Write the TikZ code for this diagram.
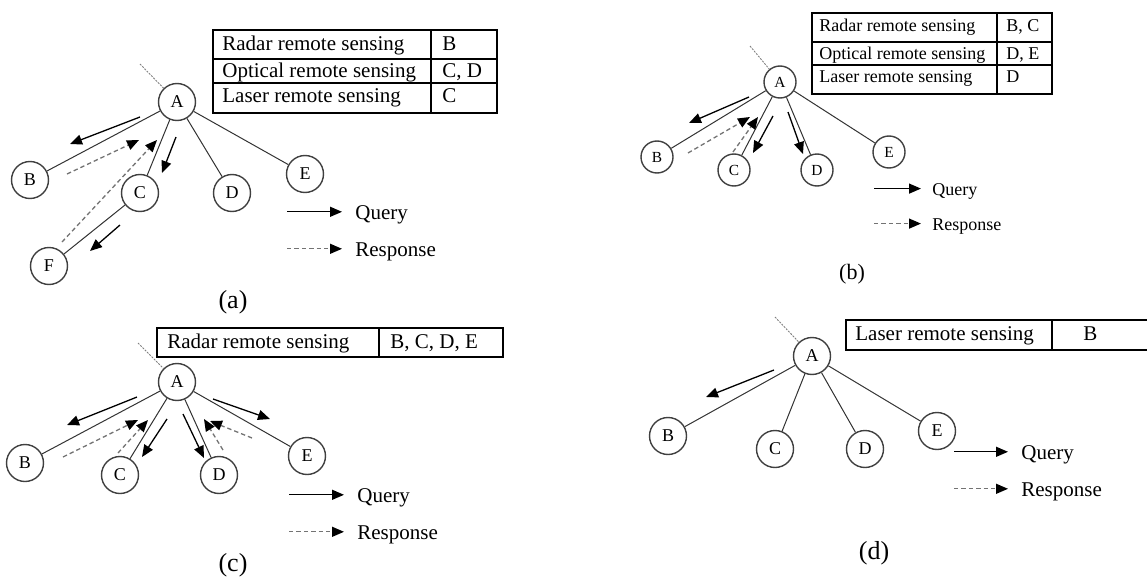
\documentclass[tikz,border=0pt]{standalone}
\usepackage{fontspec}
\setmainfont{Liberation Serif}
\usetikzlibrary{arrows.meta}
\tikzset{
	station/.style={circle,draw=black!75,line width=0.7pt,minimum size=18.5pt,inner sep=0pt,font=\fontsize{9}{10}\selectfont},
	link/.style={draw=black!80,line width=0.5pt},
	query/.style={-{Triangle[length=6pt,width=5pt]},line width=0.65pt},
	response/.style={-{Triangle[length=6pt,width=5pt,black]},draw=black!55,dash pattern=on 2.2pt off 1.5pt,line width=0.65pt},
	uplink/.style={draw=black!50,dash pattern=on 1pt off 0.6pt,line width=0.45pt},
	grid/.style={line width=0.6pt},
	cell/.style={anchor=base west,inner sep=0pt,font=\fontsize{10.5}{12}\selectfont},
	legend/.style={anchor=base west,inner sep=0pt,font=\fontsize{10.5}{12}\selectfont},
	caption/.style={font=\fontsize{13}{15}\selectfont},
	small/.style={station/.append style={minimum size=16pt,font=\fontsize{7.7}{9}\selectfont},
		cell/.append style={font=\fontsize{9}{10}\selectfont},
		legend/.append style={font=\fontsize{9}{10}\selectfont},
		caption/.append style={font=\fontsize{11}{13}\selectfont}}
}
\begin{document}
\begin{tikzpicture}[x=0.5pt,y=-0.5pt]
	\useasboundingbox (0,0) rectangle (1147,578);
	% (a)
	\node[station] (aA) at (177,102) {A};
	\node[station] (aB) at (30,180) {B};
	\node[station] (aC) at (140,193) {C};
	\node[station] (aD) at (232,193) {D};
	\node[station] (aE) at (305,174) {E};
	\node[station] (aF) at (49,266) {F};
	\draw[uplink] (140,64) -- (aA);
	\draw[link] (aA) -- (aB);
	\draw[link] (aA) -- (aC);
	\draw[link] (aA) -- (aD);
	\draw[link] (aA) -- (aE);
	\draw[link] (aC) -- (aF);
	\draw[query] (140,117) -- (70,144);
	\draw[query] (176,137) -- (162,173);
	\draw[query] (120,225) -- (90,251);
	\draw[response] (67,174) -- (139,140);
	\draw[response] (62,242) -- (157,140);
	\draw[grid] (213,30) rectangle (497,113);
	\draw[grid] (213,59) -- (497,59);
	\draw[grid] (213,83) -- (497,83);
	\draw[grid] (431,30) -- (431,113);
	\node[cell] (aR1) at (222,50) {Radar remote sensing};
	\node[cell] (aR2) at (222,77) {Optical remote sensing};
	\node[cell] (aR3) at (222,102) {Laser remote sensing};
	\node[cell] (aV1) at (442,50) {B};
	\node[cell] (aV2) at (442,77) {C, D};
	\node[cell] (aV3) at (442,102) {C};
	\node[legend] (aQ) at (355,219) {Query};
	\node[legend] (aS) at (355,256) {Response};
	\draw[query] ([xshift=-34pt,yshift=3.6pt]aQ.base west) -- ([xshift=-6.5pt,yshift=3.6pt]aQ.base west);
	\draw[response] ([xshift=-34pt,yshift=3.6pt]aS.base west) -- ([xshift=-6.5pt,yshift=3.6pt]aS.base west);
	\node[caption] (aCap) at (233,302) {(a)};
	% (b)
	\begin{scope}[small]
	\node[station] (bA) at (780,82) {A};
	\node[station] (bB) at (657,157) {B};
	\node[station] (bC) at (734,170) {C};
	\node[station] (bD) at (817,170) {D};
	\node[station] (bE) at (889,152) {E};
	\draw[uplink] (750,46) -- (bA);
	\draw[link] (bA) -- (bB);
	\draw[link] (bA) -- (bC);
	\draw[link] (bA) -- (bD);
	\draw[link] (bA) -- (bE);
	\draw[query] (749,97) -- (689,123);
	\draw[query] (773,116) -- (753,153);
	\draw[query] (788,112) -- (803,154);
	\draw[response] (688,153) -- (750,117);
	\draw[response] (733,152) -- (758,117);
	\draw[grid] (812,13) rectangle (1052,94);
	\draw[grid] (812,42) -- (1052,42);
	\draw[grid] (812,65) -- (1052,65);
	\draw[grid] (997,13) -- (997,94);
	\node[cell] (bR1) at (819,32) {Radar remote sensing};
	\node[cell] (bR2) at (819,59) {Optical remote sensing};
	\node[cell] (bR3) at (819,83) {Laser remote sensing};
	\node[cell] (bV1) at (1006,32) {B, C};
	\node[cell] (bV2) at (1006,59) {D, E};
	\node[cell] (bV3) at (1006,83) {D};
	\node[legend] (bQ) at (932,195) {Query};
	\node[legend] (bS) at (932,230) {Response};
	\draw[query] ([xshift=-29pt,yshift=3.2pt]bQ.base west) -- ([xshift=-5.5pt,yshift=3.2pt]bQ.base west);
	\draw[response] ([xshift=-29pt,yshift=3.2pt]bS.base west) -- ([xshift=-5.5pt,yshift=3.2pt]bS.base west);
	\node[caption] (bCap) at (852,274) {(b)};
	\end{scope}
	% (c)
	\node[station] (cA) at (177,382) {A};
	\node[station] (cB) at (25,463) {B};
	\node[station] (cC) at (120,475) {C};
	\node[station] (cD) at (219,475) {D};
	\node[station] (cE) at (307,456) {E};
	\draw[uplink] (138,343) -- (cA);
	\draw[link] (cA) -- (cB);
	\draw[link] (cA) -- (cC);
	\draw[link] (cA) -- (cD);
	\draw[link] (cA) -- (cE);
	\draw[query] (137,397) -- (67,425);
	\draw[query] (167,419) -- (142,457);
	\draw[query] (183,414) -- (204,458);
	\draw[query] (213,399) -- (270,419);
	\draw[response] (63,457) -- (138,420);
	\draw[response] (118,453) -- (148,420);
	\draw[response] (223,450) -- (204,419);
	\draw[response] (252,438) -- (210,421);
	\draw[grid] (157,328) rectangle (503,357);
	\draw[grid] (379,328) -- (379,357);
	\node[cell] (cR1) at (167,348) {Radar remote sensing};
	\node[cell] (cV1) at (390,348) {B, C, D, E};
	\node[legend] (cQ) at (357,502) {Query};
	\node[legend] (cS) at (357,539) {Response};
	\draw[query] ([xshift=-34pt,yshift=3.6pt]cQ.base west) -- ([xshift=-6.5pt,yshift=3.6pt]cQ.base west);
	\draw[response] ([xshift=-34pt,yshift=3.6pt]cS.base west) -- ([xshift=-6.5pt,yshift=3.6pt]cS.base west);
	\node[caption] (cCap) at (233,565) {(c)};
	% (d)
	\node[station] (dA) at (812,356) {A};
	\node[station] (dB) at (668,436) {B};
	\node[station] (dC) at (775,449) {C};
	\node[station] (dD) at (865,449) {D};
	\node[station] (dE) at (937,431) {E};
	\draw[uplink] (775,317) -- (dA);
	\draw[link] (dA) -- (dB);
	\draw[link] (dA) -- (dC);
	\draw[link] (dA) -- (dD);
	\draw[link] (dA) -- (dE);
	\draw[query] (774,370) -- (706,397);
	\draw[grid] (1147,320) -- (846,320) -- (846,350) -- (1147,350);
	\draw[grid] (1052,320) -- (1052,350);
	\node[cell] (dR1) at (855,340) {Laser remote sensing};
	\node[cell] (dV1) at (1083,340) {B};
	\node[legend] (dQ) at (1021,459) {Query};
	\node[legend] (dS) at (1021,496) {Response};
	\draw[query] ([xshift=-33.5pt,yshift=3.6pt]dQ.base west) -- ([xshift=-6.5pt,yshift=3.6pt]dQ.base west);
	\draw[response] ([xshift=-33.5pt,yshift=3.6pt]dS.base west) -- ([xshift=-6.5pt,yshift=3.6pt]dS.base west);
	\node[caption] (dCap) at (874,553) {(d)};
\end{tikzpicture}
\end{document}
